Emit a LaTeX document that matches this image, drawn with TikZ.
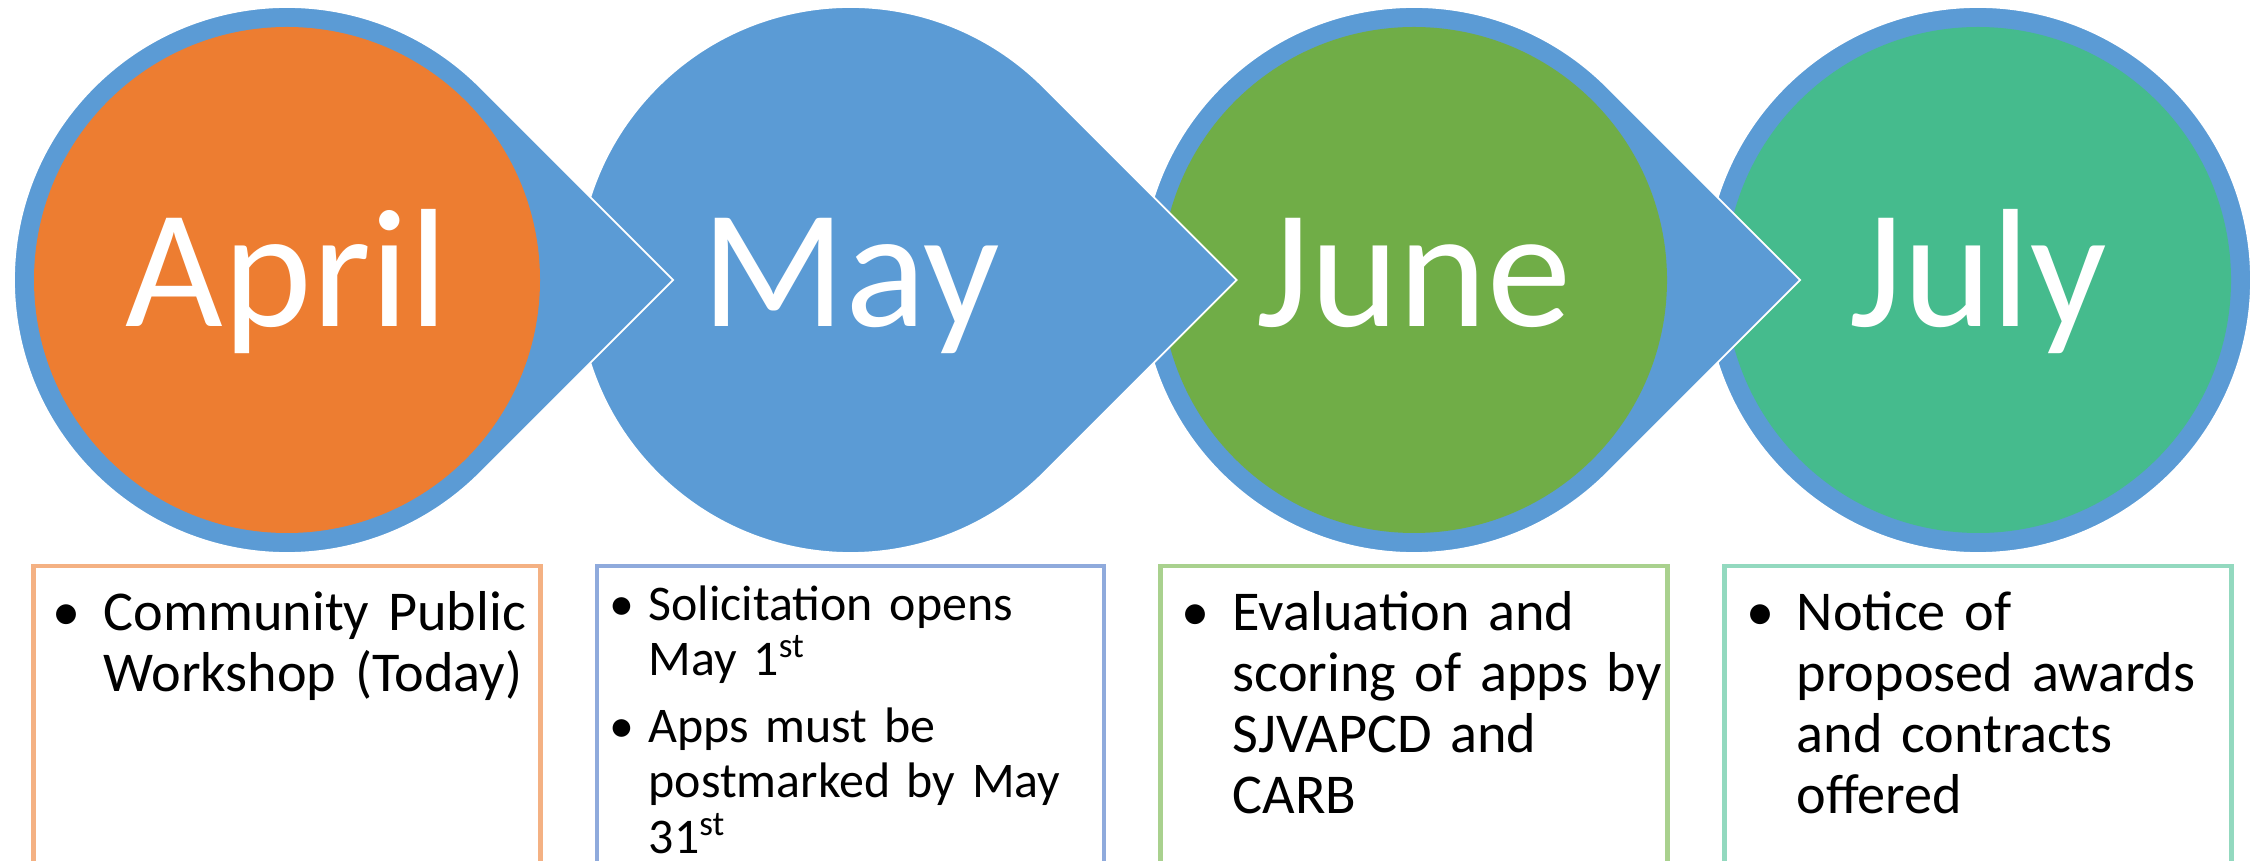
\documentclass[tikz,border=0pt]{standalone}
\usepackage{fontspec}
\setmainfont{Carlito}
\usepackage{tikz}
\usetikzlibrary{calc}
\usepackage{xcolor}
\definecolor{ringblue}{HTML}{5B9BD5}
\definecolor{aprilfill}{HTML}{ED7D31}
\definecolor{junefill}{HTML}{70AD47}
\definecolor{julyfill}{HTML}{45BB8D}
\definecolor{aprilline}{HTML}{F4B183}
\definecolor{mayline}{HTML}{8FAADC}
\definecolor{juneline}{HTML}{A9D18E}
\definecolor{julyline}{HTML}{93D9BF}
\newcommand{\R}{2.73}
\newcommand{\rin}{2.53}
\newcommand{\tip}{3.861}
\tikzset{
    ring/.style={
        fill=ringblue,
        draw=white,
        line width=0.5pt
    },
    month/.style={
        text=white,
        anchor=base,
        inner sep=0pt,
        font=\fontsize{48}{58}\selectfont
    },
    infobox/.style={
        draw,
        line width=1.4pt,
        fill=white,
        minimum width=5.07cm,
        minimum height=3.4cm,
        anchor=north,
        inner sep=0pt
    },
    dot/.style={
        anchor=base,
        inner sep=0pt,
        font=\fontsize{16}{17.3}\selectfont
    },
    itemtext/.style={
        anchor=base west,
        inner sep=0pt,
        text width=4.6cm,
        align=left,
        font=\fontsize{16}{17.3}\selectfont
    },
    small/.style={
        font=\fontsize{14.2}{15.9}\selectfont
    }
}

\begin{document}
\begin{tikzpicture}
    \useasboundingbox (0,0) rectangle (22.64,-8.61);
    \clip (0,0) rectangle (22.64,-8.61);

    % July (first, the arrows of the others lie on top of it)
    \begin{scope}[shift={(19.78,-2.80)}]
        \path[ring] (0,0) circle[radius=\R];
        \fill[julyfill] (0,0) circle[radius=\rin];
        \node[month] (july) at (0,-0.47) {July};
        \node[infobox, draw=julyline] (julybox) at (0,-2.835) {};
        \node[dot] (julydot) at (-2.18,-3.51) {\textbullet};
        \node[itemtext] (julytext) at (-1.82,-3.51) {Notice of\\ proposed awards\\ and contracts\\ offered};
    \end{scope}

    % June
    \begin{scope}[shift={(14.14,-2.80)}]
        \path[ring] (45:\R) arc[start angle=45, end angle=315, radius=\R] -- (\tip,0) -- cycle;
        \fill[junefill] (0,0) circle[radius=\rin];
        \node[month] (june) at (0,-0.47) {June};
        \node[infobox, draw=juneline] (junebox) at (0,-2.835) {};
        \node[dot] (junedot) at (-2.185,-3.51) {\textbullet};
        \node[itemtext] (junetext) at (-1.82,-3.51) {Evaluation and\\ scoring of apps by\\ SJVAPCD and\\ CARB};
    \end{scope}

    % May
    \begin{scope}[shift={(8.505,-2.80)}]
        \path[ring] (45:\R) arc[start angle=45, end angle=315, radius=\R] -- (\tip,0) -- cycle;
        \fill[ringblue] (0,0) circle[radius=\rin];
        \node[month] (may) at (0,-0.47) {May};
        \node[infobox, draw=mayline] (maybox) at (0,-2.835) {};
        \node[dot, small] (maydota) at (-2.285,-3.40) {\textbullet};
        \node[itemtext, small] (maytexta) at (-2.025,-3.40) {Solicitation opens\\ May 1\textsuperscript{st}};
        \node[dot, small] (maydotb) at (-2.285,-4.62) {\textbullet};
        \node[itemtext, small] (maytextb) at (-2.025,-4.62) {Apps must be\\ postmarked by May\\ 31\textsuperscript{st}};
    \end{scope}

    % April
    \begin{scope}[shift={(2.87,-2.80)}]
        \path[ring] (45:\R) arc[start angle=45, end angle=315, radius=\R] -- (\tip,0) -- cycle;
        \fill[aprilfill] (0,0) circle[radius=\rin];
        \node[month] (april) at (0,-0.47) {April};
        \node[infobox, draw=aprilline] (aprilbox) at (0,-2.835) {};
        \node[dot] (aprildot) at (-2.20,-3.51) {\textbullet};
        \node[itemtext] (apriltext) at (-1.84,-3.51) {Community Public\\ Workshop (Today)};
    \end{scope}
\end{tikzpicture}
\end{document}
